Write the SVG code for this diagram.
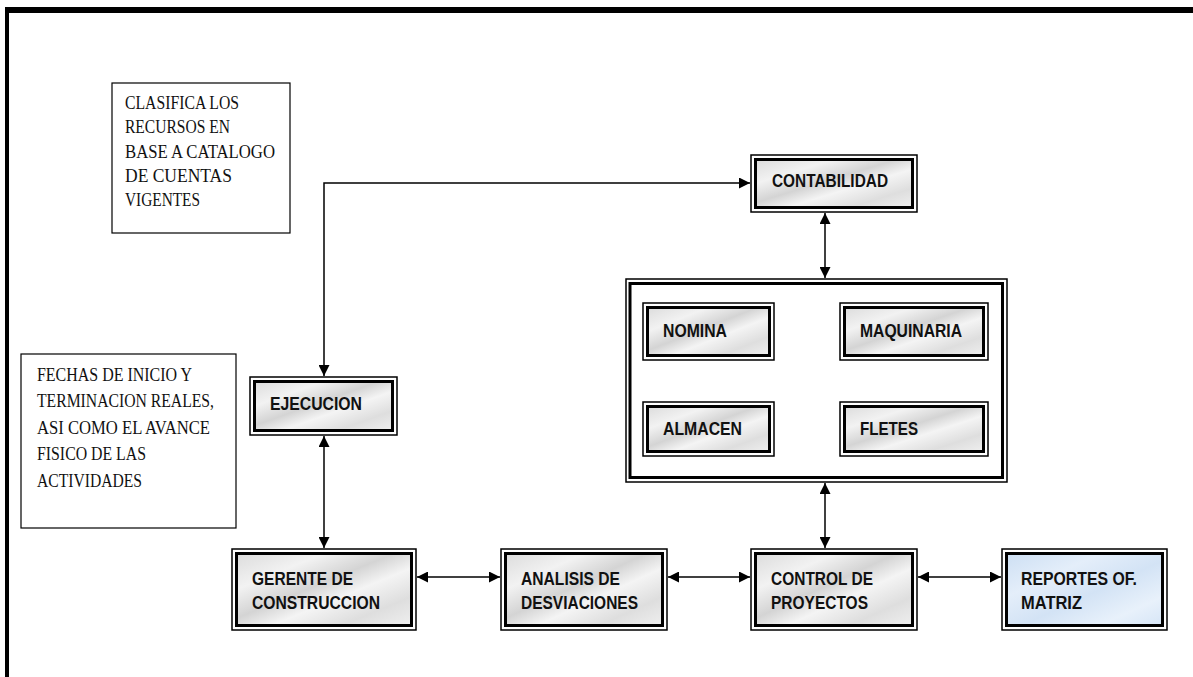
<svg xmlns="http://www.w3.org/2000/svg" width="1193" height="677" viewBox="0 0 1193 677">
<defs>
<linearGradient id="marble" x1="0" y1="0" x2="1" y2="1">
<stop offset="0" stop-color="#dcdcdc"/>
<stop offset="0.25" stop-color="#f2f2f2"/>
<stop offset="0.45" stop-color="#d4d4d4"/>
<stop offset="0.6" stop-color="#f4f4f4"/>
<stop offset="0.8" stop-color="#dedede"/>
<stop offset="1" stop-color="#efefef"/>
</linearGradient>
<linearGradient id="marbleBlue" x1="0" y1="0" x2="1" y2="1">
<stop offset="0" stop-color="#cddff3"/>
<stop offset="0.3" stop-color="#e4eefa"/>
<stop offset="0.55" stop-color="#d3e3f5"/>
<stop offset="0.8" stop-color="#e8f1fb"/>
<stop offset="1" stop-color="#d6e5f6"/>
</linearGradient>
<marker id="arr" viewBox="0 0 10 10" refX="10" refY="5" markerWidth="11" markerHeight="11" markerUnits="userSpaceOnUse" orient="auto-start-reverse">
<path d="M0,0 L10,5 L0,10 Z" fill="#000"/>
</marker>
<style>
.outer{fill:#fff;stroke:#000;stroke-width:1.5}
.inner{fill:url(#marble);stroke:#000;stroke-width:3}
.innerBlue{fill:url(#marbleBlue);stroke:#000;stroke-width:3}
.lbl{font-family:"Liberation Sans",Arial,sans-serif;font-weight:bold;font-size:18px;fill:#111}
.note{font-family:"Liberation Serif","Times New Roman",serif;font-size:18px;fill:#111}
.notebox{fill:#fff;stroke:#000;stroke-width:1.2}
.conn{fill:none;stroke:#000;stroke-width:1.5;marker-start:url(#arr);marker-end:url(#arr)}
</style>
</defs>
<rect width="1193" height="677" fill="#fff"/>
<g id="frame">
<rect x="5" y="7" width="1188" height="6" fill="#000"/>
<rect x="5" y="7" width="4" height="670" fill="#000"/>
</g>
<g id="note-clasifica">
<rect class="notebox" x="112" y="83" width="178" height="150"/>
<text class="note" x="125" y="109" textLength="114" lengthAdjust="spacingAndGlyphs">CLASIFICA LOS</text>
<text class="note" x="125" y="133" textLength="105" lengthAdjust="spacingAndGlyphs">RECURSOS EN</text>
<text class="note" x="125" y="158" textLength="150" lengthAdjust="spacingAndGlyphs">BASE A CATALOGO</text>
<text class="note" x="125" y="182" textLength="107" lengthAdjust="spacingAndGlyphs">DE CUENTAS</text>
<text class="note" x="125" y="206" textLength="75" lengthAdjust="spacingAndGlyphs">VIGENTES</text>
</g>
<g id="note-fechas">
<rect class="notebox" x="21" y="354" width="215" height="174"/>
<text class="note" x="37" y="381" textLength="155" lengthAdjust="spacingAndGlyphs">FECHAS DE INICIO Y</text>
<text class="note" x="37" y="407" textLength="177" lengthAdjust="spacingAndGlyphs">TERMINACION REALES,</text>
<text class="note" x="37" y="434" textLength="173" lengthAdjust="spacingAndGlyphs">ASI COMO EL AVANCE</text>
<text class="note" x="37" y="460" textLength="109" lengthAdjust="spacingAndGlyphs">FISICO DE LAS</text>
<text class="note" x="37" y="487" textLength="105" lengthAdjust="spacingAndGlyphs">ACTIVIDADES</text>
</g>
<g id="contabilidad">
<rect class="outer" x="751" y="155" width="166" height="57"/>
<rect class="inner" x="755.5" y="159.5" width="157" height="48"/>
<text class="lbl" x="772" y="187" textLength="116" lengthAdjust="spacingAndGlyphs">CONTABILIDAD</text>
</g>
<g id="container">
<rect x="626" y="279" width="381" height="203" fill="#fff" stroke="#000" stroke-width="1.5"/>
<rect x="630" y="283.5" width="372.5" height="194" fill="none" stroke="#000" stroke-width="3"/>
</g>
<g id="nomina">
<rect class="outer" x="643" y="303" width="131" height="57"/>
<rect class="inner" x="647.5" y="307.5" width="122" height="48"/>
<text class="lbl" x="663" y="337" textLength="64" lengthAdjust="spacingAndGlyphs">NOMINA</text>
</g>
<g id="maquinaria">
<rect class="outer" x="840" y="303" width="148" height="57"/>
<rect class="inner" x="844.5" y="307.5" width="139" height="48"/>
<text class="lbl" x="860" y="337" textLength="102" lengthAdjust="spacingAndGlyphs">MAQUINARIA</text>
</g>
<g id="almacen">
<rect class="outer" x="643" y="402" width="131" height="54"/>
<rect class="inner" x="647.5" y="406.5" width="122" height="45"/>
<text class="lbl" x="663" y="435" textLength="79" lengthAdjust="spacingAndGlyphs">ALMACEN</text>
</g>
<g id="fletes">
<rect class="outer" x="840" y="402" width="148" height="54"/>
<rect class="inner" x="844.5" y="406.5" width="139" height="45"/>
<text class="lbl" x="860" y="435" textLength="58" lengthAdjust="spacingAndGlyphs">FLETES</text>
</g>
<g id="ejecucion">
<rect class="outer" x="250" y="377" width="147" height="58"/>
<rect class="inner" x="254.5" y="381.5" width="138" height="49"/>
<text class="lbl" x="270" y="410" textLength="92" lengthAdjust="spacingAndGlyphs">EJECUCION</text>
</g>
<g id="gerente">
<rect class="outer" x="232" y="549" width="184" height="81"/>
<rect class="inner" x="236.5" y="553.5" width="175" height="72"/>
<text class="lbl" x="252" y="585" textLength="101" lengthAdjust="spacingAndGlyphs">GERENTE DE</text>
<text class="lbl" x="252" y="609" textLength="128" lengthAdjust="spacingAndGlyphs">CONSTRUCCION</text>
</g>
<g id="analisis">
<rect class="outer" x="501" y="549" width="166" height="81"/>
<rect class="inner" x="505.5" y="553.5" width="157" height="72"/>
<text class="lbl" x="521" y="585" textLength="99" lengthAdjust="spacingAndGlyphs">ANALISIS DE</text>
<text class="lbl" x="521" y="609" textLength="117" lengthAdjust="spacingAndGlyphs">DESVIACIONES</text>
</g>
<g id="control">
<rect class="outer" x="751" y="549" width="166" height="81"/>
<rect class="inner" x="755.5" y="553.5" width="157" height="72"/>
<text class="lbl" x="771" y="585" textLength="102" lengthAdjust="spacingAndGlyphs">CONTROL DE</text>
<text class="lbl" x="771" y="609" textLength="97" lengthAdjust="spacingAndGlyphs">PROYECTOS</text>
</g>
<g id="reportes">
<rect class="outer" x="1002" y="549" width="165" height="81"/>
<rect class="innerBlue" x="1006.5" y="553.5" width="156" height="72"/>
<text class="lbl" x="1021" y="585" textLength="116" lengthAdjust="spacingAndGlyphs">REPORTES OF.</text>
<text class="lbl" x="1021" y="609" textLength="61" lengthAdjust="spacingAndGlyphs">MATRIZ</text>
</g>
<g id="connectors">
<path class="conn" d="M750,183 H324 V376"/>
<path class="conn" d="M324,436 V548"/>
<path class="conn" d="M825,213 V278"/>
<path class="conn" d="M825,483 V548"/>
<path class="conn" d="M417,577 H500"/>
<path class="conn" d="M668,577 H750"/>
<path class="conn" d="M918,577 H1001"/>
</g>
</svg>
